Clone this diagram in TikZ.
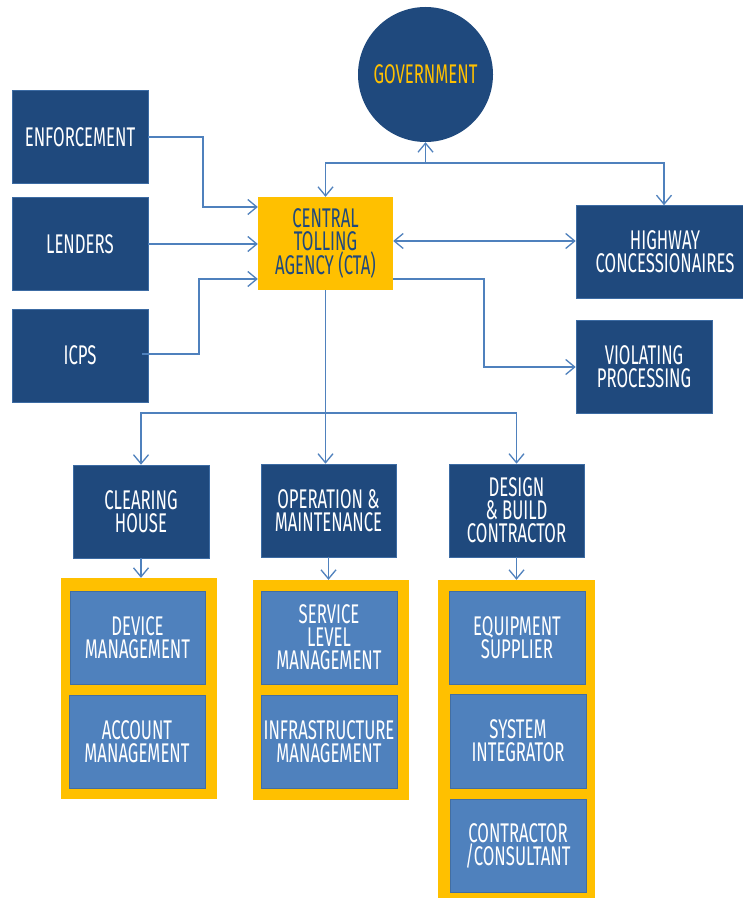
\documentclass[tikz,border=0pt]{standalone}
\usepackage{fontspec}
\setmainfont{Fira Sans}[FakeStretch=0.62]
\usetikzlibrary{arrows.meta}
\definecolor{cdark}{HTML}{1F497D}
\definecolor{clight}{HTML}{4F81BD}
\definecolor{cyel}{HTML}{FFC000}
\begin{document}
\begin{tikzpicture}[x=1pt,y=-1pt,
  box/.style={rectangle, inner sep=0pt, align=center, font=\fontsize{27}{23}\selectfont},
  dbox/.style={box, fill=cdark, draw=clight!60!cdark, line width=0.6pt, text=white, minimum width=136, minimum height=93},
  lbox/.style={box, fill=clight, draw=clight!85!black, line width=0.5pt, text=white, minimum width=136, minimum height=93},
  ybox/.style={box, fill=cyel, text=cdark, minimum width=135, minimum height=93},
  yframe/.style={rectangle, fill=cyel, inner sep=0pt},
  tip/.tip={Straight Barb[length=9pt,width=15pt,line width=1.3pt]},
  arr/.style={draw=clight, line width=1.3pt, -tip},
  arrb/.style={draw=clight, line width=1.3pt, tip-tip},
]
\useasboundingbox (0,0) rectangle (743,899);
\fill[white] (0,0) rectangle (743,899);

% top nodes
\node[circle, fill=cdark, minimum size=135, inner sep=0pt, text=cyel, font=\fontsize{27}{23}\selectfont] (gov) at (425.5,74.5) {GOVERNMENT};
\node[dbox] (enf) at (80,137) {ENFORCEMENT};
\node[dbox] (len) at (80,244) {LENDERS};
\node[dbox] (icps) at (80,355.5) {ICPS};
\node[ybox] (cta) at (325.5,243.5) {CENTRAL\\TOLLING\\AGENCY (CTA)};
\node[dbox, minimum width=178] (hw) at (665,252) {HIGHWAY\\CONCESSIONAIRES};
\node[dbox] (vp) at (644,367) {VIOLATING\\PROCESSING};

% middle nodes
\node[dbox] (ch) at (141,511.5) {CLEARING\\HOUSE};
\node[dbox, minimum width=135] (om) at (328.5,510.5) {OPERATION \&\\MAINTENANCE};
\node[dbox, minimum width=135] (db) at (516.5,510.5) {DESIGN\\\& BUILD\\CONTRACTOR};

% frames
\node[yframe, minimum width=156, minimum height=221] (f1) at (139,688.5) {};
\node[yframe, minimum width=156, minimum height=220] (f2) at (331,690) {};
\node[yframe, minimum width=157, minimum height=318] (f3) at (516.5,739) {};

% inner boxes
\node[lbox, minimum width=135] (dev) at (137.5,637.5) {DEVICE\\MANAGEMENT};
\node[lbox] (acc) at (137,742) {ACCOUNT\\MANAGEMENT};
\node[lbox] (slm) at (329,637.5) {SERVICE\\LEVEL\\MANAGEMENT};
\node[lbox] (inf) at (329,742) {INFRASTRUCTURE\\MANAGEMENT};
\node[lbox] (eq) at (517,637.5) {EQUIPMENT\\SUPPLIER};
\node[lbox, minimum height=94] (si) at (518,741) {SYSTEM\\INTEGRATOR};
\node[lbox] (cc) at (518,845.5) {CONTRACTOR\\/CONSULTANT};

% connectors to CTA
\draw[arr] (enf.east) -- (203,137) -- (203,207) -- ([yshift=36.5pt]cta.west);
\draw[arr] (len.east) -- (len.east -| cta.west);
\draw[arr] ([xshift=-6pt,yshift=1.5pt]icps.east) -- (199,354) -- (199,279) -- ([yshift=-35.5pt]cta.west);

% government bus
\coordinate (bus) at (425.5,163);
\draw[arr] (bus) -| (cta.north);
\draw[arr] (bus) -| ([xshift=-1pt]hw.north);
\draw[arr] (bus) -- (gov.south);

% CTA to right
\draw[arrb] ([yshift=2.5pt]cta.east) -- ([yshift=2.5pt]cta.east -| hw.west);
\draw[arr] ([yshift=-35.5pt]cta.east) -- (484,279) -- (484,367) -- (vp.west);

% CTA down
\coordinate (bus2) at (325.5,413);
\draw[arr] (cta.south) -- (cta.south |- om.north);
\draw[arr] (bus2) -| (ch.north);
\draw[arr] (bus2) -| (db.north);

% to frames
\draw[arr] (ch.south) -- (ch.south |- f1.north);
\draw[arr] (om.south) -- (om.south |- f2.north);
\draw[arr] (db.south) -- (db.south |- f3.north);
\end{tikzpicture}
\end{document}
